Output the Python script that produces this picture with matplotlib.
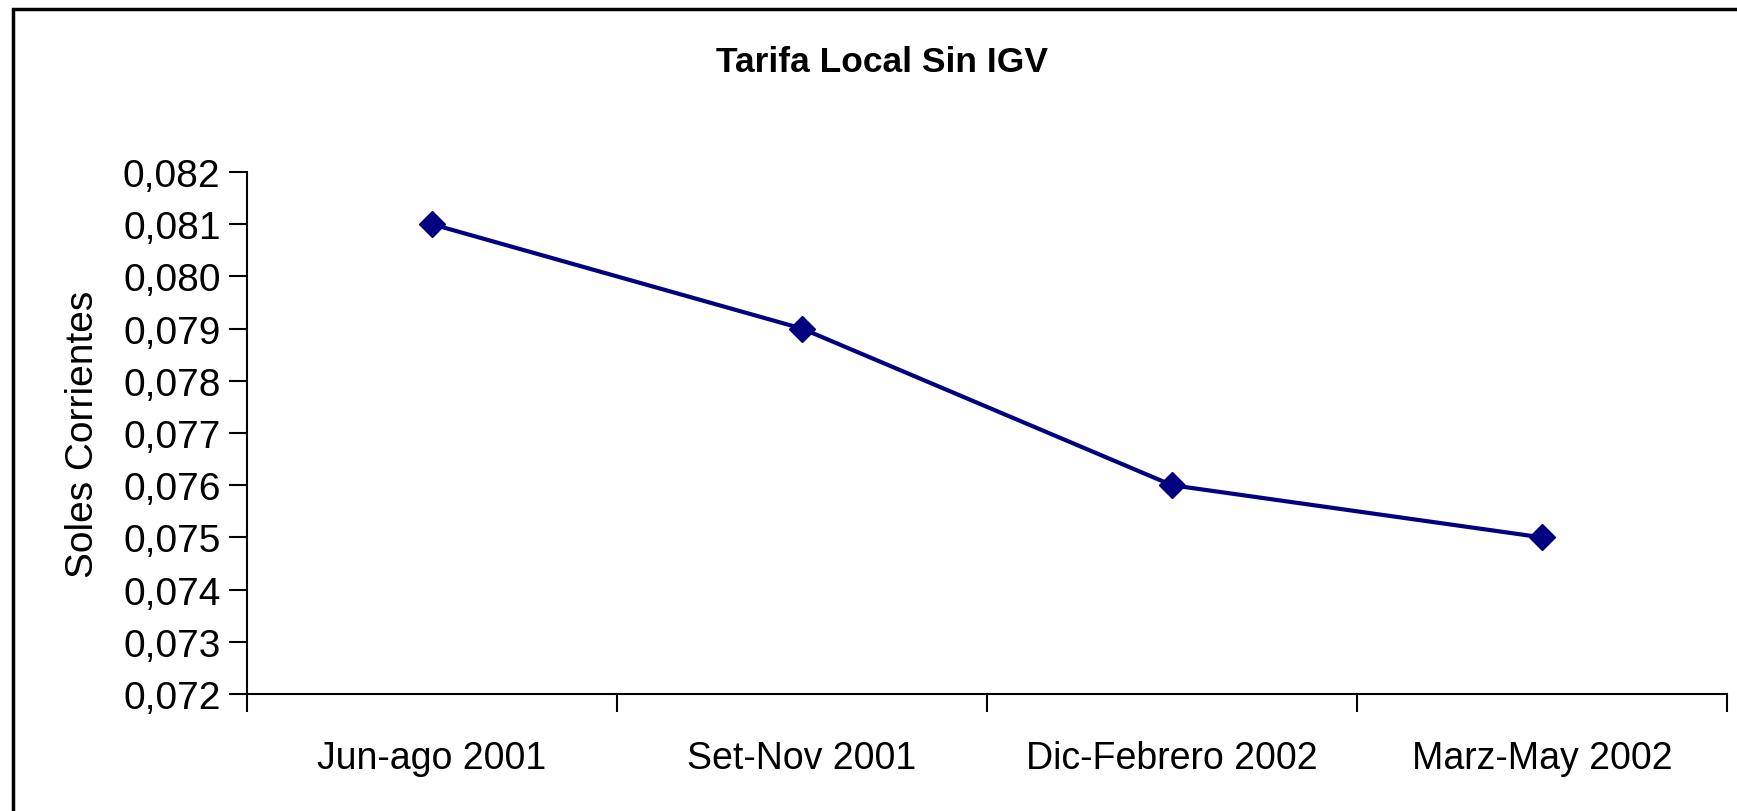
import matplotlib
matplotlib.use("Agg")
from matplotlib import pyplot as plt
from matplotlib.patches import Rectangle
from matplotlib.ticker import FixedLocator

plt.rcParams['font.family'] = ['Liberation Sans', 'DejaVu Sans']

# Datos
periodos = ["Jun-ago 2001", "Set-Nov 2001", "Dic-Febrero 2002", "Marz-May 2002"]
tarifa = [0.081, 0.079, 0.076, 0.075]
y_ticks = [0.072, 0.073, 0.074, 0.075, 0.076, 0.077, 0.078, 0.079, 0.080, 0.081, 0.082]

fig = plt.figure(figsize=(17.37, 8.12), dpi=100)
ax = fig.add_axes([247 / 1737, 1 - 695 / 812, (1727 - 247) / 1737, (695 - 173) / 812])

# marco exterior del grafico
fig.patches.append(Rectangle((13 / 1737, -0.1), 1.2, 1 - 10 / 812 + 0.1,
                             transform=fig.transFigure, fill=False,
                             edgecolor="black", linewidth=2.5))

xs = [i + 0.5 for i in range(len(periodos))]
ax.plot(xs, tarifa, color="#000080", linewidth=3, marker="D", markersize=13)

ax.set_xlim(0, len(periodos))
ax.set_ylim(y_ticks[0], y_ticks[-1])
ax.xaxis.set_major_locator(FixedLocator(range(len(periodos) + 1)))
ax.xaxis.set_minor_locator(FixedLocator(xs))
ax.set_xticklabels([])
ax.set_xticklabels(periodos, minor=True)
ax.tick_params(axis="x", which="minor", length=0, labelsize=27, pad=33)
ax.tick_params(axis="x", which="major", length=13, width=1.5, direction="out")
ax.set_yticks(y_ticks)
ax.set_yticklabels([f"{v:.3f}".replace(".", ",") for v in y_ticks])
ax.tick_params(axis="y", length=13, width=1.5, direction="out", labelsize=28, pad=6)

for side in ["top", "right"]:
    ax.spines[side].set_visible(False)
for side in ["left", "bottom"]:
    ax.spines[side].set_linewidth(1.5)

ax.set_ylabel("Soles Corrientes", fontsize=28, labelpad=16)
fig.text(882 / 1737, 1 - 62 / 812, "Tarifa Local Sin IGV", ha="center", va="center",
         fontsize=25.5, fontweight="bold")

fig.savefig("out.png", dpi=100)
